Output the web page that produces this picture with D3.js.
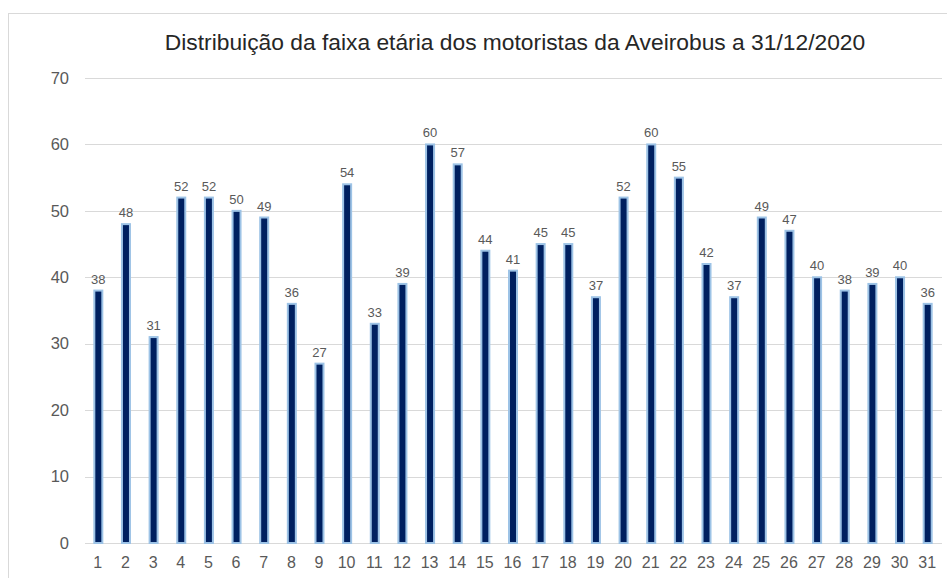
<!DOCTYPE html>
<html>
<head>
<meta charset="utf-8">
<script src="https://cdn.jsdelivr.net/npm/d3@7"></script>
<style>
  body { margin: 0; background: #fff; }
  svg { display: block; font-family: "Liberation Sans", Arial, sans-serif; }
</style>
</head>
<body>
<div id="chart"></div>
<script>
// Chart data
const TITLE = "Distribuição da faixa etária dos motoristas da Aveirobus a 31/12/2020";
const categories = d3.range(1, 32).map(String);
const values = [38, 48, 31, 52, 52, 50, 49, 36, 27, 54, 33, 39, 60, 57, 44, 41,
  45, 45, 37, 52, 60, 55, 42, 37, 49, 47, 40, 38, 39, 40, 36];
const yTicks = [0, 10, 20, 30, 40, 50, 60, 70];

const WIDTH = 947;
const HEIGHT = 578;
const margin = { top: 78, right: 5, bottom: 35, left: 85 };

const svg = d3.select("#chart")
  .append("svg")
  .attr("width", WIDTH)
  .attr("height", HEIGHT);

// Outer frame (cut off at right and bottom like the source)
svg.append("rect")
  .attr("x", 8.5)
  .attr("y", 13.5)
  .attr("width", WIDTH + 10)
  .attr("height", HEIGHT + 10)
  .attr("fill", "#fff")
  .attr("stroke", "#d9d9d9");

const x = d3.scaleBand()
  .domain(categories)
  .range([margin.left, WIDTH - margin.right]);

const y = d3.scaleLinear()
  .domain([0, 70])
  .range([HEIGHT - margin.bottom, margin.top]);

// Gridlines
svg.append("g")
  .selectAll("line")
  .data(yTicks)
  .join("line")
  .attr("x1", margin.left)
  .attr("x2", WIDTH - margin.right)
  .attr("y1", d => Math.round(y(d)) + 0.5)
  .attr("y2", d => Math.round(y(d)) + 0.5)
  .attr("stroke", "#d9d9d9")
  .attr("stroke-width", 1);

// Y axis labels
svg.append("g")
  .selectAll("text")
  .data(yTicks)
  .join("text")
  .attr("x", 69)
  .attr("y", d => y(d))
  .attr("dy", "0.35em")
  .attr("text-anchor", "end")
  .attr("fill", "#595959")
  .style("font-size", "16.5px")
  .text(d => d);

// X axis labels
svg.append("g")
  .selectAll("text")
  .data(categories)
  .join("text")
  .attr("x", d => x(d) + x.bandwidth() / 2 - 1)
  .attr("y", HEIGHT - margin.bottom + 25)
  .attr("text-anchor", "middle")
  .attr("fill", "#595959")
  .style("font-size", "16px")
  .text(d => d);

// Bars
const barW = 8;
svg.append("g")
  .selectAll("rect")
  .data(values)
  .join("rect")
  .attr("x", (d, i) => x(categories[i]) + x.bandwidth() / 2 - barW / 2 - 0.5)
  .attr("y", d => y(d))
  .attr("width", barW)
  .attr("height", d => y(0) - y(d))
  .attr("fill", "#002060")
  .attr("stroke", "#9dc3e6")
  .attr("stroke-width", 2);

// Data labels
svg.append("g")
  .selectAll("text")
  .data(values)
  .join("text")
  .attr("x", (d, i) => x(categories[i]) + x.bandwidth() / 2 - 0.5)
  .attr("y", d => y(d) - 7)
  .attr("text-anchor", "middle")
  .attr("fill", "#595959")
  .style("font-size", "13px")
  .text(d => d);

// Title
svg.append("text")
  .attr("x", 515)
  .attr("y", 50)
  .attr("text-anchor", "middle")
  .attr("fill", "#262626")
  .style("font-size", "22.8px")
  .text(TITLE);
</script>
</body>
</html>
